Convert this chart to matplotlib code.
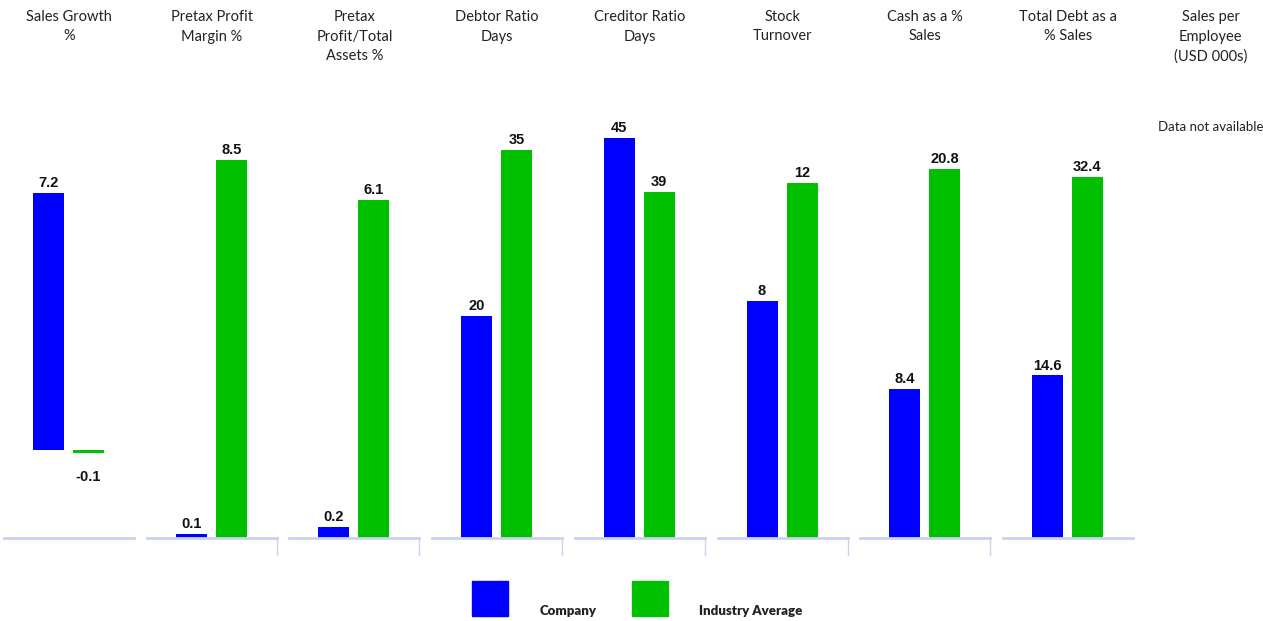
import numpy as np
import matplotlib
matplotlib.use("Agg")
import matplotlib.pyplot as plt
from matplotlib.patches import Rectangle
from matplotlib.lines import Line2D

# panel titles and values (company, industry average)
titles = ["Sales Growth\n%", "Pretax Profit\nMargin %", "Pretax\nProfit/Total\nAssets %",
          "Debtor Ratio\nDays", "Creditor Ratio\nDays", "Stock\nTurnover",
          "Cash as a %\nSales", "Total Debt as a\n% Sales", "Sales per\nEmployee\n(USD 000s)"]
company = [7.2, 0.1, 0.2, 20, 45, 8, 8.4, 14.6, None]
industry = [-0.1, 8.5, 6.1, 35, 39, 12, 20.8, 32.4, None]
labels_c = ["7.2", "0.1", "0.2", "20", "45", "8", "8.4", "14.6", None]
labels_i = ["-0.1", "8.5", "6.1", "35", "39", "12", "20.8", "32.4", None]
series_names = ["Company", "Industry Average"]

# per-panel y ranges
ylims = [(-2.47, 9.8), (0, 9.85), (0, 7.9), (0, 39.5), (0, 49.3),
         (0, 14.8), (0, 24.7), (0, 39.3), (0, 1)]

BLUE = "#0000FF"
GREEN = "#00C000"
BASE = "#C9D3EC"

W, H = 1263, 621
fig = plt.figure(figsize=(W / 100, H / 100), dpi=100)

title_font = ["Lato", "DejaVu Sans"]
val_font = ["Liberation Sans", "DejaVu Sans"]

step = 142.7
pw = 130
top, bottom = 100, 538

for i in range(9):
    left = 4 + step * i
    ax = fig.add_axes([left / W, 1 - bottom / H, pw / W, (bottom - top) / H])
    ax.set_xlim(-44.5 / 40, (pw - 44.5) / 40)
    ax.set_ylim(*ylims[i])
    ax.set_xticks([])
    ax.set_yticks([])
    for s in ["top", "left", "right"]:
        ax.spines[s].set_visible(False)
    ax.patch.set_alpha(0)
    fig.text((left + pw / 2) / W, 1 - 10 / H, titles[i], ha="center", va="top",
             fontsize=10.5, family=title_font, color="#222222", linespacing=1.5)
    if company[i] is None:
        ax.spines["bottom"].set_visible(False)
        fig.text((left + pw / 2) / W, 1 - 127 / H, "Data not available", ha="center",
                 va="center", fontsize=9.5, family=title_font, color="#222222")
        continue
    ax.spines["bottom"].set_color(BASE)
    ax.spines["bottom"].set_linewidth(2)
    vals = [company[i], industry[i]]
    labs = [labels_c[i], labels_i[i]]
    bars = ax.bar([0, 1], vals, width=0.775, color=[BLUE, GREEN])
    for x, v, lab in zip([0, 1], vals, labs):
        if v >= 0:
            ax.annotate(lab, (x, v), xytext=(0, 2), textcoords="offset points",
                        ha="center", va="bottom", fontsize=10.5, fontweight="bold",
                        family=val_font, color="#111111")
        else:
            ax.annotate(lab, (x, v), xytext=(0, -12), textcoords="offset points",
                        ha="center", va="top", fontsize=10.5, fontweight="bold",
                        family=val_font, color="#111111")
    if 1 <= i <= 6:
        xr = (left + pw) / W
        fig.add_artist(Line2D([xr, xr], [1 - 538 / H, 1 - 555 / H], color=BASE,
                              lw=1, transform=fig.transFigure))

# legend
for (x0, col, name, tx) in [(472, BLUE, series_names[0], 540), (632, GREEN, series_names[1], 699)]:
    fig.add_artist(Rectangle((x0 / W, 1 - 616 / H), 36 / W, 35 / H, color=col,
                             transform=fig.transFigure))
    fig.text(tx / W, 1 - 615 / H, name, ha="left", va="baseline", fontsize=9.5,
             fontweight="heavy", family=title_font, color="#222222")

fig.savefig("out.png", dpi=100)
